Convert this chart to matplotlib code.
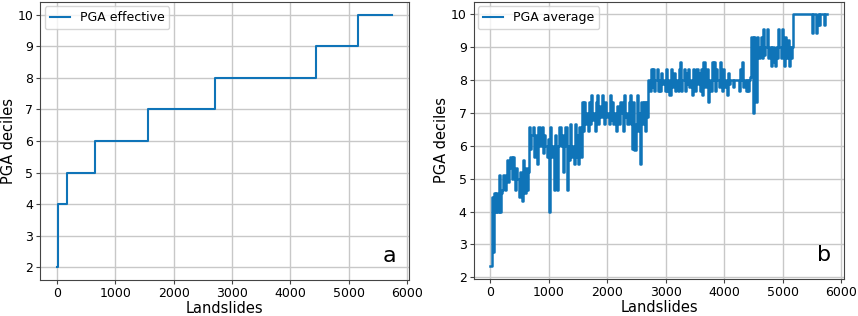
import numpy as np
import matplotlib.pyplot as plt

# PGA effective: step values
eff_x = [0, 8, 18, 170, 647, 1558, 2710, 4445, 5165, 5750]
eff_y = [2, 3, 4, 5, 6, 7, 8, 9, 10, 10]

# PGA average: one value every 20 landslides
avg_step = 20
avg_y = [
    2.33, 4.44, 2.78, 4.56, 4.0, 4.56, 4.0, 5.11, 4.0, 4.56,      # 0-180
    4.67, 5.11, 4.67, 5.0, 5.56, 4.89, 5.33, 5.67, 5.0, 5.67,     # 200-380
    5.22, 4.67, 5.33, 5.0, 4.44, 5.22, 4.67, 4.33, 5.56, 4.56,    # 400-580
    5.33, 4.67, 5.22, 6.56, 5.89, 6.33, 6.56, 5.67, 6.33, 6.0,    # 600-780
    5.44, 6.56, 6.0, 6.33, 6.56, 5.78, 6.33, 6.0, 5.67, 6.22,     # 800-980
    4.0, 6.56, 5.67, 6.0, 4.67, 6.33, 5.33, 4.67, 6.0, 6.56,      # 1000-1180
    6.0, 6.33, 5.22, 6.0, 6.56, 4.67, 6.0, 5.56, 6.67, 5.67,      # 1200-1380
    6.0, 5.44, 6.67, 5.67, 6.33, 5.44, 6.56, 5.67, 7.33, 6.44,    # 1400-1580
    7.33, 6.67, 7.0, 6.44, 7.33, 6.67, 7.56, 6.78, 7.0, 6.44,     # 1600-1780
    7.33, 7.56, 6.67, 7.22, 6.89, 7.56, 7.0, 6.67, 7.33, 6.89,    # 1800-1980
    7.0, 6.67, 7.56, 6.78, 7.33, 6.67, 7.0, 6.44, 7.22, 7.0,      # 2000-2180
    6.67, 7.33, 7.0, 6.44, 7.56, 6.89, 7.0, 6.67, 7.33, 7.56,     # 2200-2380
    6.67, 5.89, 7.33, 5.87, 6.67, 7.56, 6.44, 7.0, 5.44, 7.33,    # 2400-2580
    6.67, 7.33, 6.44, 7.33, 6.89, 8.0, 7.67, 8.33, 7.78, 8.33,    # 2600-2780
    7.67, 8.0, 8.33, 7.67, 8.0, 7.67, 8.22, 7.89, 8.0, 7.67,      # 2800-2980
    8.33, 7.67, 8.0, 7.56, 8.33, 7.78, 8.0, 8.22, 7.67, 8.0,      # 3000-3180
    7.67, 8.33, 8.56, 7.67, 8.0, 8.33, 7.67, 8.22, 7.89, 8.33,    # 3200-3380
    7.78, 8.0, 7.56, 8.33, 8.0, 7.67, 8.33, 7.89, 8.22, 7.67,     # 3400-3580
    8.33, 7.56, 8.56, 7.78, 8.0, 8.33, 7.33, 8.0, 7.67, 8.56,     # 3600-3780
    8.0, 8.56, 7.67, 8.33, 8.0, 7.78, 8.56, 8.0, 7.67, 8.33,      # 3800-3980
    7.78, 8.0, 7.56, 8.22, 7.89, 8.0, 8.0, 7.78, 8.0, 8.0,        # 4000-4180
    8.0, 8.0, 7.67, 8.33, 8.0, 8.56, 7.78, 8.0, 7.67, 8.0,        # 4200-4380
    7.67, 8.0, 8.11, 9.33, 7.0, 9.33, 8.67, 7.33, 9.33, 8.67,     # 4400-4580
    9.0, 9.33, 8.67, 9.56, 8.78, 9.0, 9.56, 8.67, 8.89, 9.0,      # 4600-4780
    8.44, 9.0, 8.56, 8.44, 9.0, 8.67, 9.56, 9.0, 8.67, 9.56,      # 4800-4980
    9.0, 8.44, 9.33, 8.67, 9.22, 8.44, 9.0, 8.67, 9.0, 10.0,      # 5000-5180
    10, 10, 10, 10, 10, 10, 10, 10, 10, 10,                       # 5200-5380
    10, 10, 10, 10, 10, 9.44, 10, 10, 9.44, 9.67,                 # 5400-5580
    10, 9.67, 10, 10, 10, 9.67, 10, 10, 10,                       # 5600-5760
]
avg_x = np.arange(len(avg_y)) * avg_step

blue = '#0f74b8'

fig = plt.figure(figsize=(8.58, 3.16), dpi=100)
ax1 = fig.add_axes([0.047, 0.114, 0.430, 0.88])
ax2 = fig.add_axes([0.552, 0.117, 0.432, 0.877])

ax1.plot(eff_x, eff_y, drawstyle='steps-post', color=blue, lw=1.5, label='PGA effective')
ax2.plot(avg_x, avg_y, drawstyle='steps-post', color=blue, lw=1.8, label='PGA average')

for ax, letter in [(ax1, 'a'), (ax2, 'b')]:
    ax.grid(True, color='#c8c8c8', lw=1)
    ax.set_axisbelow(True)
    ax.set_xticks([0, 1000, 2000, 3000, 4000, 5000, 6000])
    ax.tick_params(labelsize=9, color='#444444', length=3, pad=2)
    ax.set_xlabel('Landslides', fontsize=10.5, labelpad=1)
    ax.set_ylabel('PGA deciles', fontsize=10.5, labelpad=1)
    for s in ax.spines.values():
        s.set_color('#444444')
    leg = ax.legend(loc='upper left', fontsize=9, borderaxespad=0.35, handlelength=1.6)
    for h in leg.get_lines():
        h.set_linewidth(1.5)
    ax.text(0.945, 0.085, letter, transform=ax.transAxes, fontsize=16,
            ha='center', va='center')

fig.savefig('out.png', dpi=100)
